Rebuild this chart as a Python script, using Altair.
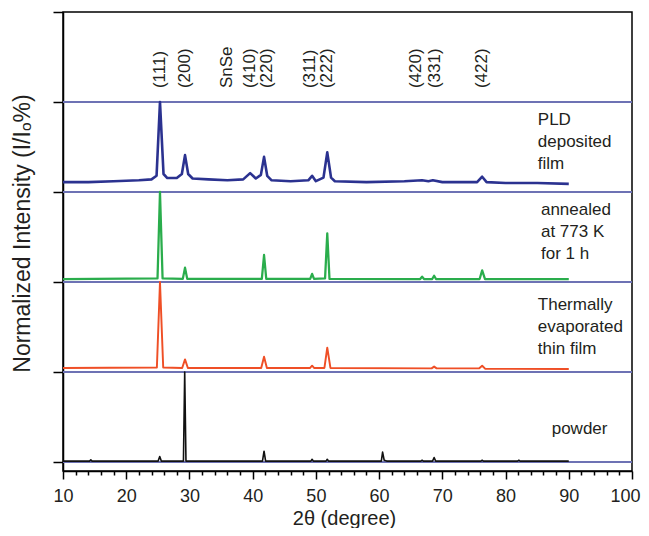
import altair as alt
import pandas as pd

# ---------------- data ----------------
# intensities are in panel units (0 = panel baseline, 1 = panel top line)
pld_tt = [10, 14, 18, 22, 24, 24.8, 25.34, 25.9, 26.5, 28, 28.8, 29.3, 29.8, 30.5, 33, 36, 38.5,
          39.6, 40.5, 41.3, 41.8, 42.3, 43, 46, 48.8, 49.4, 50, 51.2, 51.8, 52.4, 53, 58, 64,
          66.8, 67.8, 68.5, 70, 75.5, 76.3, 77, 80, 85, 90]
pld_i = [0.11, 0.11, 0.12, 0.13, 0.14, 0.18, 1.0, 0.2, 0.155, 0.155, 0.2, 0.41, 0.2, 0.15, 0.14, 0.13, 0.14,
         0.21, 0.15, 0.19, 0.39, 0.18, 0.13, 0.12, 0.13, 0.18, 0.12, 0.16, 0.44, 0.16, 0.12, 0.11, 0.12,
         0.13, 0.12, 0.13, 0.11, 0.11, 0.17, 0.11, 0.10, 0.10, 0.09]

ann_tt = [10, 24.95, 25.34, 25.75, 28.95, 29.3, 29.65, 41.45, 41.8, 42.15, 49.1, 49.4, 49.7, 51.45,
          51.8, 52.15, 66.5, 66.8, 67.1, 68.4, 68.7, 69.0, 75.9, 76.3, 76.75, 90]
ann_i = [0.033, 0.04, 1.0, 0.04, 0.035, 0.16, 0.035, 0.035, 0.30, 0.035, 0.035, 0.09, 0.035, 0.04,
         0.54, 0.035, 0.033, 0.06, 0.033, 0.033, 0.07, 0.033, 0.033, 0.13, 0.033, 0.033]

th_tt = [10, 24.85, 25.34, 25.85, 28.85, 29.3, 29.75, 41.35, 41.8, 42.25, 49.05, 49.4, 49.75, 51.35,
         51.8, 52.3, 68.3, 68.7, 69.1, 75.8, 76.3, 76.8, 90]
th_i = [0.044, 0.05, 1.0, 0.05, 0.045, 0.14, 0.045, 0.045, 0.17, 0.045, 0.044, 0.07, 0.044, 0.045,
        0.27, 0.045, 0.04, 0.06, 0.04, 0.04, 0.07, 0.035, 0.033]

pow_tt = [10, 14.2, 14.4, 14.6, 25.05, 25.3, 25.55, 29.05, 29.25, 29.45, 41.55, 41.8, 42.05, 49.2,
          49.4, 49.6, 51.6, 51.8, 52.0, 60.35, 60.55, 60.8, 61.2, 66.6, 66.8, 67.0, 68.45, 68.7,
          68.95, 76.1, 76.3, 76.5, 81.9, 82.1, 82.3, 90]
pow_i = [0.01, 0.01, 0.025, 0.01, 0.01, 0.06, 0.01, 0.01, 1.0, 0.01, 0.01, 0.12, 0.01, 0.01,
         0.03, 0.01, 0.01, 0.03, 0.01, 0.01, 0.11, 0.02, 0.01, 0.01, 0.02, 0.01, 0.01, 0.05,
         0.01, 0.01, 0.02, 0.01, 0.01, 0.02, 0.01, 0.01]

series_names = ["PLD", "annealed", "thermal", "powder"]
series_offsets = [3, 2, 1, 0]
series_colors = ["#2b3290", "#2aad4c", "#ef4f26", "#111111"]
series_widths = [2.6, 1.6, 2.0, 1.5]

peak_labels = ["(111)", "(200)", "SnSe", "(410)", "(220)", "(311)", "(222)", "(420)", "(331)", "(422)"]
peak_label_tt = [25.34, 29.3, 35.9, 39.6, 42.3, 49.1, 51.8, 65.8, 68.8, 76.3]

panel_texts = ["PLD\ndeposited\nfilm", "annealed\nat 773 K\nfor 1 h", "Thermally\nevaporated\nthin film", "powder"]
panel_text_tt = [85.1, 85.6, 85.1, 87.3]
panel_text_y = [3.89, 2.89, 1.83, 0.455]

panel_lines = [0, 1, 2, 3, 4]
x_tick_values = list(range(10, 101, 2))
y_tick_values = [0, 1, 2, 3, 4, 5]

# ---------------- tables ----------------
rows = []
for name, off, tts, ints in zip(series_names, series_offsets,
                                [pld_tt, ann_tt, th_tt, pow_tt], [pld_i, ann_i, th_i, pow_i]):
    for k, (t, v) in enumerate(zip(tts, ints)):
        rows.append({"series": name, "tt": t, "y": off + v, "k": k})
lines_df = pd.DataFrame(rows)
rules_df = pd.DataFrame({"y": panel_lines})
peaks_df = pd.DataFrame({"tt": peak_label_tt, "label": peak_labels, "y": [4.155] * len(peak_labels)})
ptext_df = pd.DataFrame({"tt": panel_text_tt, "y": panel_text_y, "label": panel_texts})

FONT = "Liberation Sans"
TXT = "#231f20"


def X():
    return alt.X("tt:Q",
                 scale=alt.Scale(domain=[10, 100], nice=False, zero=False),
                 axis=alt.Axis(values=x_tick_values,
                               labelExpr="datum.value % 10 === 0 ? datum.label : ''",
                               tickSize={"condition": {"test": "datum.value % 10 === 0", "value": 8}, "value": 4},
                               labelAlign={"condition": {"test": "datum.value === 100", "value": "right"}, "value": "center"},
                               labelOffset={"condition": {"test": "datum.value === 100", "value": 8}, "value": 0},
                               labelFlush=False, labelOverlap=False, grid=False,
                               labelPadding=8, labelFontSize=18,
                               title="2θ (degree)", titleFontSize=20, titleFontWeight="normal",
                               titleX=281, titleY=53, titleBaseline="alphabetic"))


def Y():
    return alt.Y("y:Q",
                 scale=alt.Scale(domain=[-0.1, 5.0], nice=False, zero=False),
                 axis=alt.Axis(values=y_tick_values, labels=False, tickSize=10, grid=False,
                               title="Normalized Intensity (I/Iₒ%)", titleFontSize=23,
                               titleFontWeight="normal", titleX=-34, titleY=221,
                               titleBaseline="alphabetic", titleAngle=270))


rules = alt.Chart(rules_df).mark_rule(color="#6d72b4", strokeWidth=2).encode(y=Y())

lines = alt.Chart(lines_df).mark_line(strokeJoin="round").encode(
    x=X(), y=Y(),
    color=alt.Color("series:N", scale=alt.Scale(domain=series_names, range=series_colors), legend=None),
    strokeWidth=alt.StrokeWidth("series:N", scale=alt.Scale(domain=series_names, range=series_widths), legend=None),
    detail="series:N",
    order="k:Q",
)

peaks = alt.Chart(peaks_df).mark_text(angle=270, align="left", baseline="middle",
                                      fontSize=17, color=TXT, font=FONT).encode(
    x=X(), y=Y(), text="label:N")

ptext = alt.Chart(ptext_df).mark_text(align="left", baseline="top", lineBreak="\n", lineHeight=22,
                                      fontSize=17, color=TXT, font=FONT).encode(
    x=X(), y=Y(), text="label:N")

chart = alt.layer(rules, lines, peaks, ptext).properties(
    width=569, height=459,
    autosize=alt.AutoSizeParams(type="none"),
    padding={"left": 55, "top": 4, "right": 9, "bottom": 57},
).configure(font=FONT).configure_view(
    stroke="black", strokeWidth=1.5
).configure_axis(
    domainColor="black", domainWidth=1.5, tickColor="black", tickWidth=1.5,
    labelColor=TXT, titleColor=TXT, labelFont=FONT, titleFont=FONT,
)

chart.save("out.html", embed_options={"renderer": "svg", "actions": False})
